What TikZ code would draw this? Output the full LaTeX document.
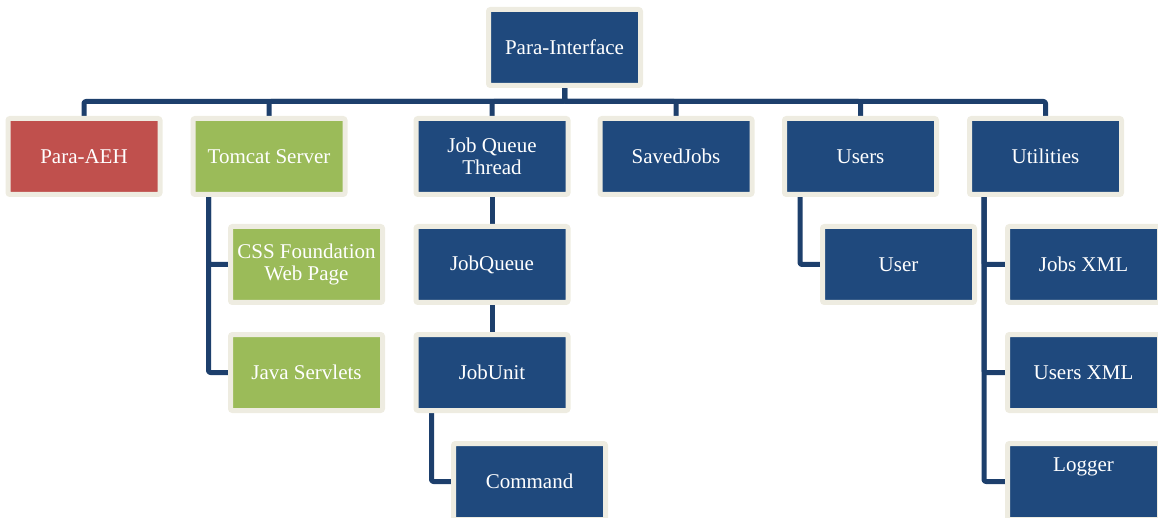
\documentclass[tikz,border=0pt]{standalone}
\usepackage{fontspec}
\setmainfont{Liberation Serif}
\usetikzlibrary{backgrounds}
\definecolor{bx}{HTML}{1F497D}
\definecolor{rd}{HTML}{C0504D}
\definecolor{gr}{HTML}{9BBB59}
\definecolor{bd}{HTML}{EEECE1}
\definecolor{cn}{HTML}{1D3F6C}
\tikzset{
  box/.style={draw=bd, line width=5pt, rounded corners=2pt, fill=bx,
    minimum width=152pt, minimum height=76pt, inner sep=0pt,
    text=white, font=\fontsize{21}{22}\selectfont, align=center},
  redbox/.style={box, fill=rd},
  greenbox/.style={box, fill=gr},
  lbl/.style={text=white, font=\fontsize{21}{22}\selectfont, inner sep=0pt},
  conn/.style={draw=cn, line width=5pt, rounded corners=2pt, line join=round}
}
\begin{document}
\begin{tikzpicture}[x=1pt, y=-1pt]
\clip (0,0) rectangle (1158,518);

\node[box] (pi) at (564.5,47.5) {Para-Interface};

\node[redbox] (aeh) at (84,156.5) {Para-AEH};
\node[greenbox] (tomcat) at (269,156.5) {Tomcat Server};
\node[box] (jqt) at (492,156.5) {Job Queue\\Thread};
\node[box] (saved) at (676,156.5) {SavedJobs};
\node[box] (users) at (860.5,156.5) {Users};
\node[box] (util) at (1045.5,156.5) {Utilities};

\node[greenbox] (css) at (306.5,264.5) {CSS Foundation\\Web Page};
\node[greenbox] (java) at (306.5,372.5) {Java Servlets};

\node[box] (jq) at (492,264.5) {JobQueue};
\node[box] (ju) at (492,372.5) {JobUnit};
\node[box] (cmd) at (529.5,481.5) {Command};

\node[box] (user) at (898.5,264.5) {User};

\node[box] (jobsxml) at (1083.5,264.5) {Jobs XML};
\node[box] (usersxml) at (1083.5,372.5) {Users XML};
\node[box] (logger) at (1083.5,481.5) {};
\node[lbl] (loggertext) at ([yshift=15pt]logger.center) {Logger};

\begin{pgfonlayer}{background}
\draw[conn] (pi.south) -- ++(0,13.5) -| (aeh.north);
\draw[conn] (pi.south) -- ++(0,13.5) -| (tomcat.north);
\draw[conn] (pi.south) -- ++(0,13.5) -| (jqt.north);
\draw[conn] (pi.south) -- ++(0,13.5) -| (saved.north);
\draw[conn] (pi.south) -- ++(0,13.5) -| (users.north);
\draw[conn] (pi.south) -- ++(0,13.5) -| (util.north);

\draw[conn] ([xshift=18pt]tomcat.south west) |- (css.west);
\draw[conn] ([xshift=18pt]tomcat.south west) |- (java.west);

\draw[conn] (jqt.south) -- (jq.north);
\draw[conn] (jq.south) -- (ju.north);
\draw[conn] ([xshift=18pt]ju.south west) |- (cmd.west);

\draw[conn] ([xshift=18pt]users.south west) |- (user.west);

\draw[conn] ([xshift=17pt]util.south west) |- (jobsxml.west);
\draw[conn] ([xshift=17pt]util.south west) |- (usersxml.west);
\draw[conn] ([xshift=17pt]util.south west) |- (logger.west);
\end{pgfonlayer}
\end{tikzpicture}
\end{document}
